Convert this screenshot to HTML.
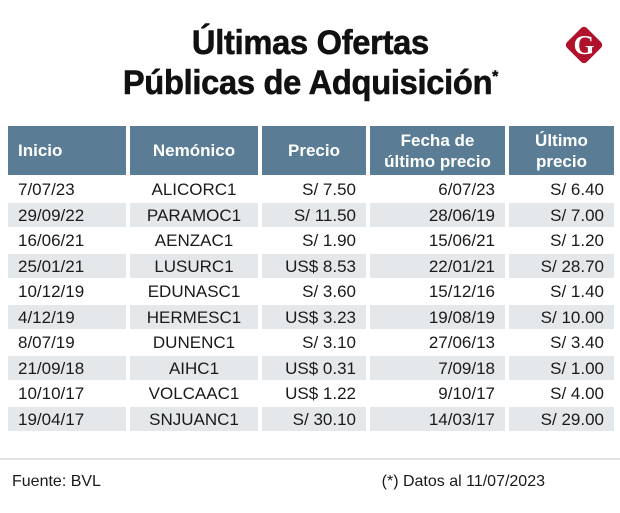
<!DOCTYPE html>
<html><head><meta charset="utf-8"><style>
body{margin:0;width:620px;height:513px;background:#fff;position:relative;overflow:hidden;font-family:"Liberation Sans",sans-serif;color:#1a1a1a}
.t{position:absolute;left:0;width:620px;text-align:center;font-weight:bold;font-size:34px;letter-spacing:-0.3px;color:#111;-webkit-text-stroke:0.6px #111}
.c{position:absolute;box-sizing:border-box;font-size:17px;line-height:25px;white-space:nowrap}
.h{position:absolute;box-sizing:border-box;background:#5a7c95;color:#fff;font-weight:bold;font-size:17px;display:flex;align-items:center}
</style></head><body>
<div class="t" style="top:24px"><span style="display:inline-block;transform:scaleX(0.96)">Últimas Ofertas</span></div>
<div class="t" style="top:64px"><span style="display:inline-block;transform:scaleX(0.96)">Públicas de Adquisición<sup style="font-size:16px">*</sup></span></div>
<svg style="position:absolute;left:561px;top:22px" width="46" height="46" viewBox="0 0 46 46"><rect x="9" y="9" width="28" height="28" rx="4" transform="rotate(45 23 23)" fill="#b0112b"/><text x="23" y="32" text-anchor="middle" font-family="Liberation Serif" font-weight="bold" font-size="27" fill="#fff">G</text></svg>
<div id="tbl"></div>
<div style="position:absolute;left:0;top:458px;width:620px;height:2px;background:#e3e3e3"></div>
<div style="position:absolute;left:12px;top:473px;font-size:16px">Fuente: BVL</div>
<div style="position:absolute;right:75px;top:473px;font-size:16px">(*) Datos al 11/07/2023</div>
<script>
const headers=["Inicio","Nemónico","Precio","Fecha de<br>último precio","Último<br>precio"];
const inicio=["7/07/23","29/09/22","16/06/21","25/01/21","10/12/19","4/12/19","8/07/19","21/09/18","10/10/17","19/04/17"];
const nemonico=["ALICORC1","PARAMOC1","AENZAC1","LUSURC1","EDUNASC1","HERMESC1","DUNENC1","AIHC1","VOLCAAC1","SNJUANC1"];
const precio=["S/ 7.50","S/ 11.50","S/ 1.90","US$ 8.53","S/ 3.60","US$ 3.23","S/ 3.10","US$ 0.31","US$ 1.22","S/ 30.10"];
const fecha=["6/07/23","28/06/19","15/06/21","22/01/21","15/12/16","19/08/19","27/06/13","7/09/18","9/10/17","14/03/17"];
const ultimo=["S/ 6.40","S/ 7.00","S/ 1.20","S/ 28.70","S/ 1.40","S/ 10.00","S/ 3.40","S/ 1.00","S/ 4.00","S/ 29.00"];
const cols=[[8,126],[130,258],[262,366],[370,505],[509,614]];
const hAlign=["flex-start","center","center","center","center"];
const cAlign=["left","center","right","right","right"];
const names=["inicio","nemonico","precio","fecha","ultimo"];
const data=[inicio,nemonico,precio,fecha,ultimo];
const tbl=document.getElementById('tbl');
cols.forEach((c,i)=>{
 const d=document.createElement('div');
 
 
 d.className='h';
 d.style.cssText=`left:${c[0]}px;top:126px;width:${c[1]-c[0]}px;height:49px;justify-content:${hAlign[i]};text-align:center;line-height:21px;padding:0 10px`;
 d.innerHTML=headers[i];
 tbl.appendChild(d);
});
for(let r=0;r<inicio.length;r++){
 const top=177+r*25.5;
 cols.forEach((c,i)=>{
  const d=document.createElement('div');
  
  
  d.className='c';
  d.style.cssText=`left:${c[0]}px;top:${top}px;width:${c[1]-c[0]}px;height:24px;text-align:${cAlign[i]};padding:0 10px;background:${r%2?'#e4e8eb':'#fff'}`;
  d.textContent=data[i][r];
  tbl.appendChild(d);
 });
}
</script>
</body></html>
